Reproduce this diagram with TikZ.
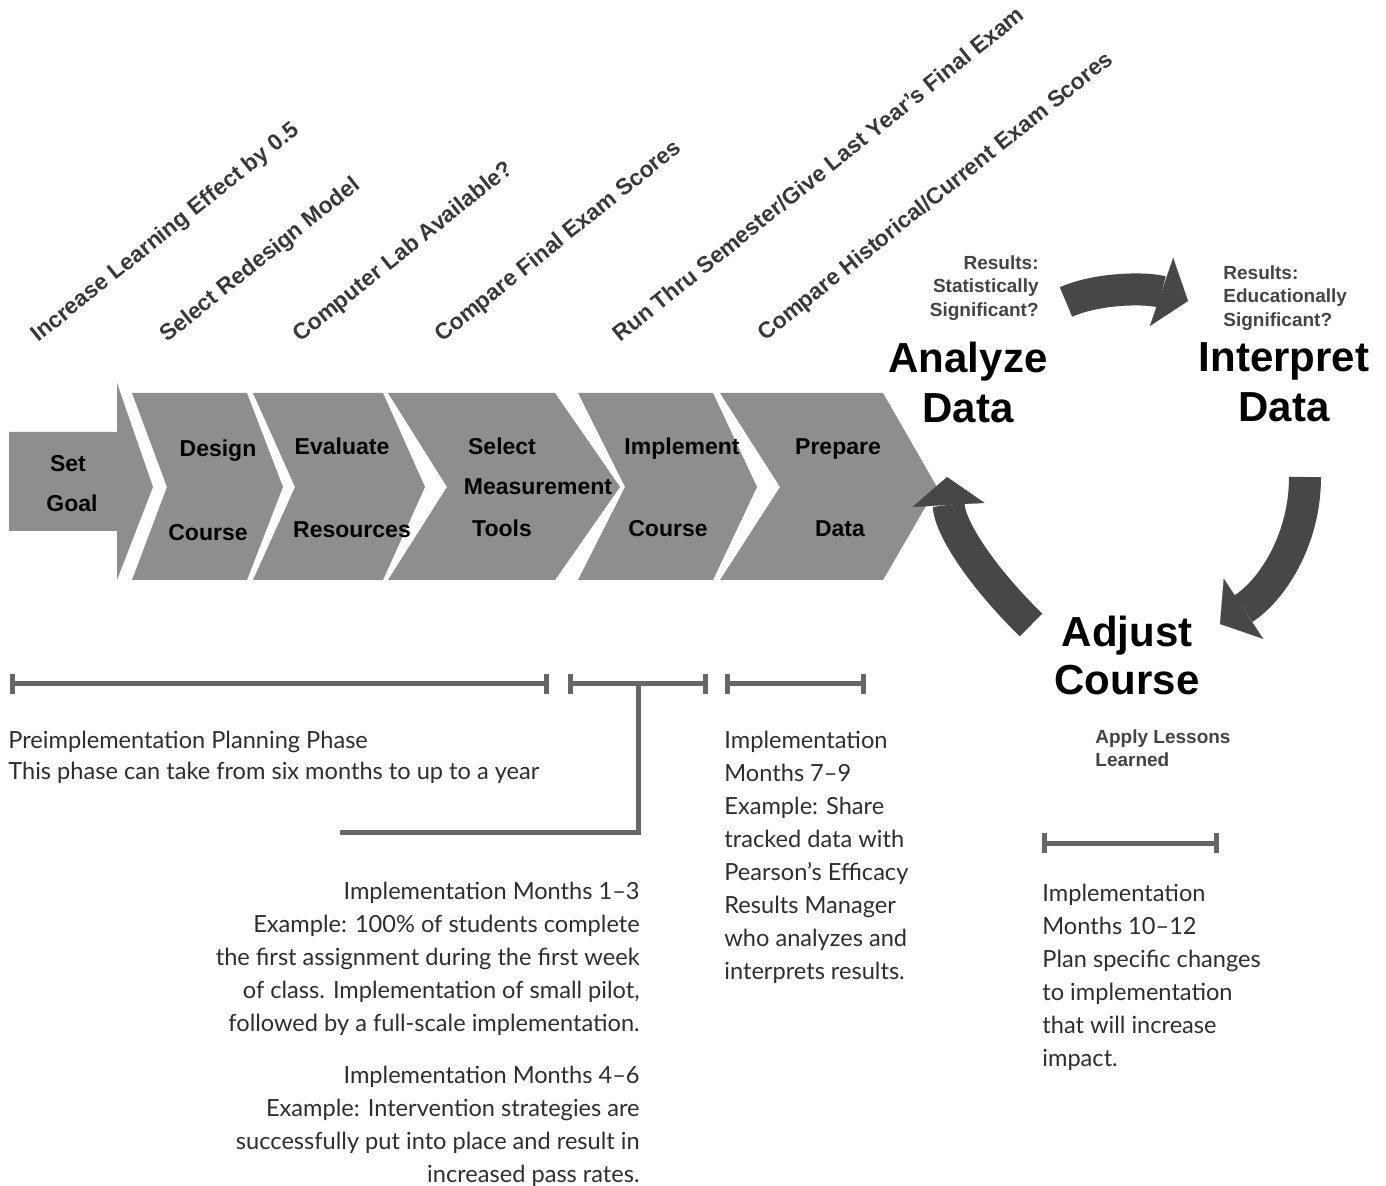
\documentclass[tikz,border=0pt]{standalone}
\usepackage{fontspec}
\setmainfont{Lato}
\newfontfamily\arialf{Liberation Sans}
\usetikzlibrary{arrows.meta}
\definecolor{chevgray}{HTML}{8E8E8E}
\definecolor{cycgray}{HTML}{474747}
\definecolor{rotgray}{HTML}{383838}
\definecolor{smallgray}{HTML}{444444}
\definecolor{bargray}{HTML}{666666}
\definecolor{bodygray}{HTML}{2E2E2E}
\tikzset{
  chev/.style={fill=chevgray, draw=none},
  clab/.style={font=\arialf\bfseries\fontsize{11.5}{13}\selectfont, text=black, inner sep=0pt, anchor=base},
  rotlab/.style={font=\arialf\bfseries\fontsize{11.4}{13}\selectfont, text=rotgray, rotate=38.7, anchor=base west, inner sep=0pt},
  biglab/.style={font=\arialf\bfseries\fontsize{21}{25}\selectfont, align=center, inner sep=0pt, anchor=north, text=black},
  smalllab/.style={font=\arialf\bfseries\fontsize{9.5}{11.75}\selectfont, text=smallgray, inner sep=0pt},
  body/.style={font=\fontsize{11.8}{16.5}\selectfont, text=bodygray, inner sep=0pt},
  cyc/.style={draw=cycgray, line width=16pt, -{Triangle[width=36pt,length=14pt,line width=0.1pt]}},
  tbar/.style={draw=bargray, line width=2.5pt, {Bar[width=10pt]}-{Bar[width=10pt]}},
  tlink/.style={draw=bargray, line width=2.5pt, line join=miter}
}
\begin{document}
\begin{tikzpicture}[x=0.5pt,y=-0.5pt]
\fill[white] (0,0) rectangle (1386,1186);
\useasboundingbox (0,0) rectangle (1386,1186);

% chevrons
\fill[chev] (9,432) -- (117,432) -- (117,383) -- (153,487) -- (117,580) -- (117,531) -- (9,531) -- cycle;
\fill[chev] (132,393) -- (247,393) -- (283,487) -- (247,580) -- (132,580) -- (167,487) -- cycle;
\fill[chev] (253,393) -- (383,393) -- (425,487) -- (383,580) -- (253,580) -- (295,487) -- cycle;
\fill[chev] (388,393) -- (555,393) -- (620,487) -- (555,580) -- (388,580) -- (447,487) -- cycle;
\fill[chev] (578,393) -- (713,393) -- (757,487) -- (713,580) -- (578,580) -- (625,487) -- cycle;
\fill[chev] (720,393) -- (883,393) -- (937,487) -- (883,580) -- (720,580) -- (780,487) -- cycle;

% chevron labels
\node[clab] (set1) at (68,472) {Set};
\node[clab] (set2) at (72,512) {Goal};
\node[clab] (des1) at (218,457) {Design};
\node[clab] (des2) at (208,541) {Course};
\node[clab] (eva1) at (342,455) {Evaluate};
\node[clab] (eva2) at (352,538) {Resources};
\node[clab] (sel1) at (502,455) {Select};
\node[clab] (sel2) at (538,495) {Measurement};
\node[clab] (sel3) at (502,537) {Tools};
\node[clab] (imp1) at (682,455) {Implement};
\node[clab] (imp2) at (668,537) {Course};
\node[clab] (pre1) at (838,455) {Prepare};
\node[clab] (pre2) at (840,537) {Data};

% rotated labels
\node[rotlab] (r1) at (38,343) {Increase Learning Effect by 0.5};
\node[rotlab] (r2) at (167,343) {Select Redesign Model};
\node[rotlab] (r3) at (300,343) {Computer Lab Available?};
\node[rotlab] (r4) at (442,343) {Compare Final Exam Scores};
\node[rotlab] (r5) at (620,343) {Run Thru Semester/Give Last Year’s Final Exam};
\node[rotlab] (r6) at (765,342) {Compare Historical/Current Exam Scores};

% cycle labels
\node[biglab] (analyze) at (968,342) {Analyze\\Data};
\node[biglab] (interpret) at (1284,342) {Interpret\\Data};
\node[biglab, font=\arialf\bfseries\fontsize{21}{24}\selectfont] (adjust) at (1127,616) {Adjust\\Course};
\node[smalllab, anchor=north east, align=right] (resA) at (1039,255) {Results:\\Statistically\\Significant?};
\node[smalllab, anchor=north west, align=left] (resB) at (1223,265) {Results:\\Educationally\\Significant?};
\node[smalllab, anchor=north west, align=left, font=\arialf\bfseries\fontsize{9.5}{11.5}\selectfont] (apply) at (1095,729) {Apply Lessons\\Learned};

% cycle arrows
\coordinate (c1s) at (1066,302);
\coordinate (c1e) at (1188,301);
\coordinate (c2s) at (1305,477);
\coordinate (c2e) at (1220,624);
\coordinate (c3s) at (1031,625);
\coordinate (c3e) at (947,477);
\draw[cyc] (c1s) .. controls (1100,287) and (1150,288) .. (c1e);
\draw[cyc] (c2s) .. controls (1305,540) and (1272,590) .. (c2e);
\draw[cyc] (c3s) .. controls (985,580) and (950,530) .. (c3e);

% timeline bars
\coordinate (b1l) at (10,684);
\coordinate (b1r) at (549,684);
\coordinate (b2l) at (568,684);
\coordinate (b2r) at (708,684);
\coordinate (b2m) at (638,684);
\coordinate (b2e) at (340,832);
\coordinate (b3l) at (725,684);
\coordinate (b3r) at (866,684);
\coordinate (b4l) at (1042,843);
\coordinate (b4r) at (1219,843);
\draw[tbar] (b1l) -- (b1r);
\draw[tbar] (b2l) -- (b2r);
\draw[tbar] (b3l) -- (b3r);
\draw[tbar] (b4l) -- (b4r);
\draw[tlink] (b2m) |- (b2e);

% body texts
\node[body, anchor=north west, align=left, font=\fontsize{11.8}{15.5}\selectfont] (pre) at (8,731)
  {Preimplementation Planning Phase\\This phase can take from six months to up to a year};
\node[body, anchor=north east, align=right] (m13) at (640,882)
  {Implementation Months 1–3\\Example: 100\% of students complete\\the first assignment during the first week\\of class. Implementation of small pilot,\\followed by a full-scale implementation.};
\node[body, anchor=north east, align=right] (m46) at (640,1066)
  {Implementation Months 4–6\\Example: Intervention strategies are\\successfully put into place and result in\\increased pass rates.};
\node[body, anchor=north west, align=left] (m79) at (724,731)
  {Implementation\\Months 7–9\\Example: Share\\tracked data with\\Pearson’s Efficacy\\Results Manager\\who analyzes and\\interprets results.};
\node[body, anchor=north west, align=left] (m1012) at (1042,884)
  {Implementation\\Months 10–12\\Plan specific changes\\to implementation\\that will increase\\impact.};
\end{tikzpicture}
\end{document}
